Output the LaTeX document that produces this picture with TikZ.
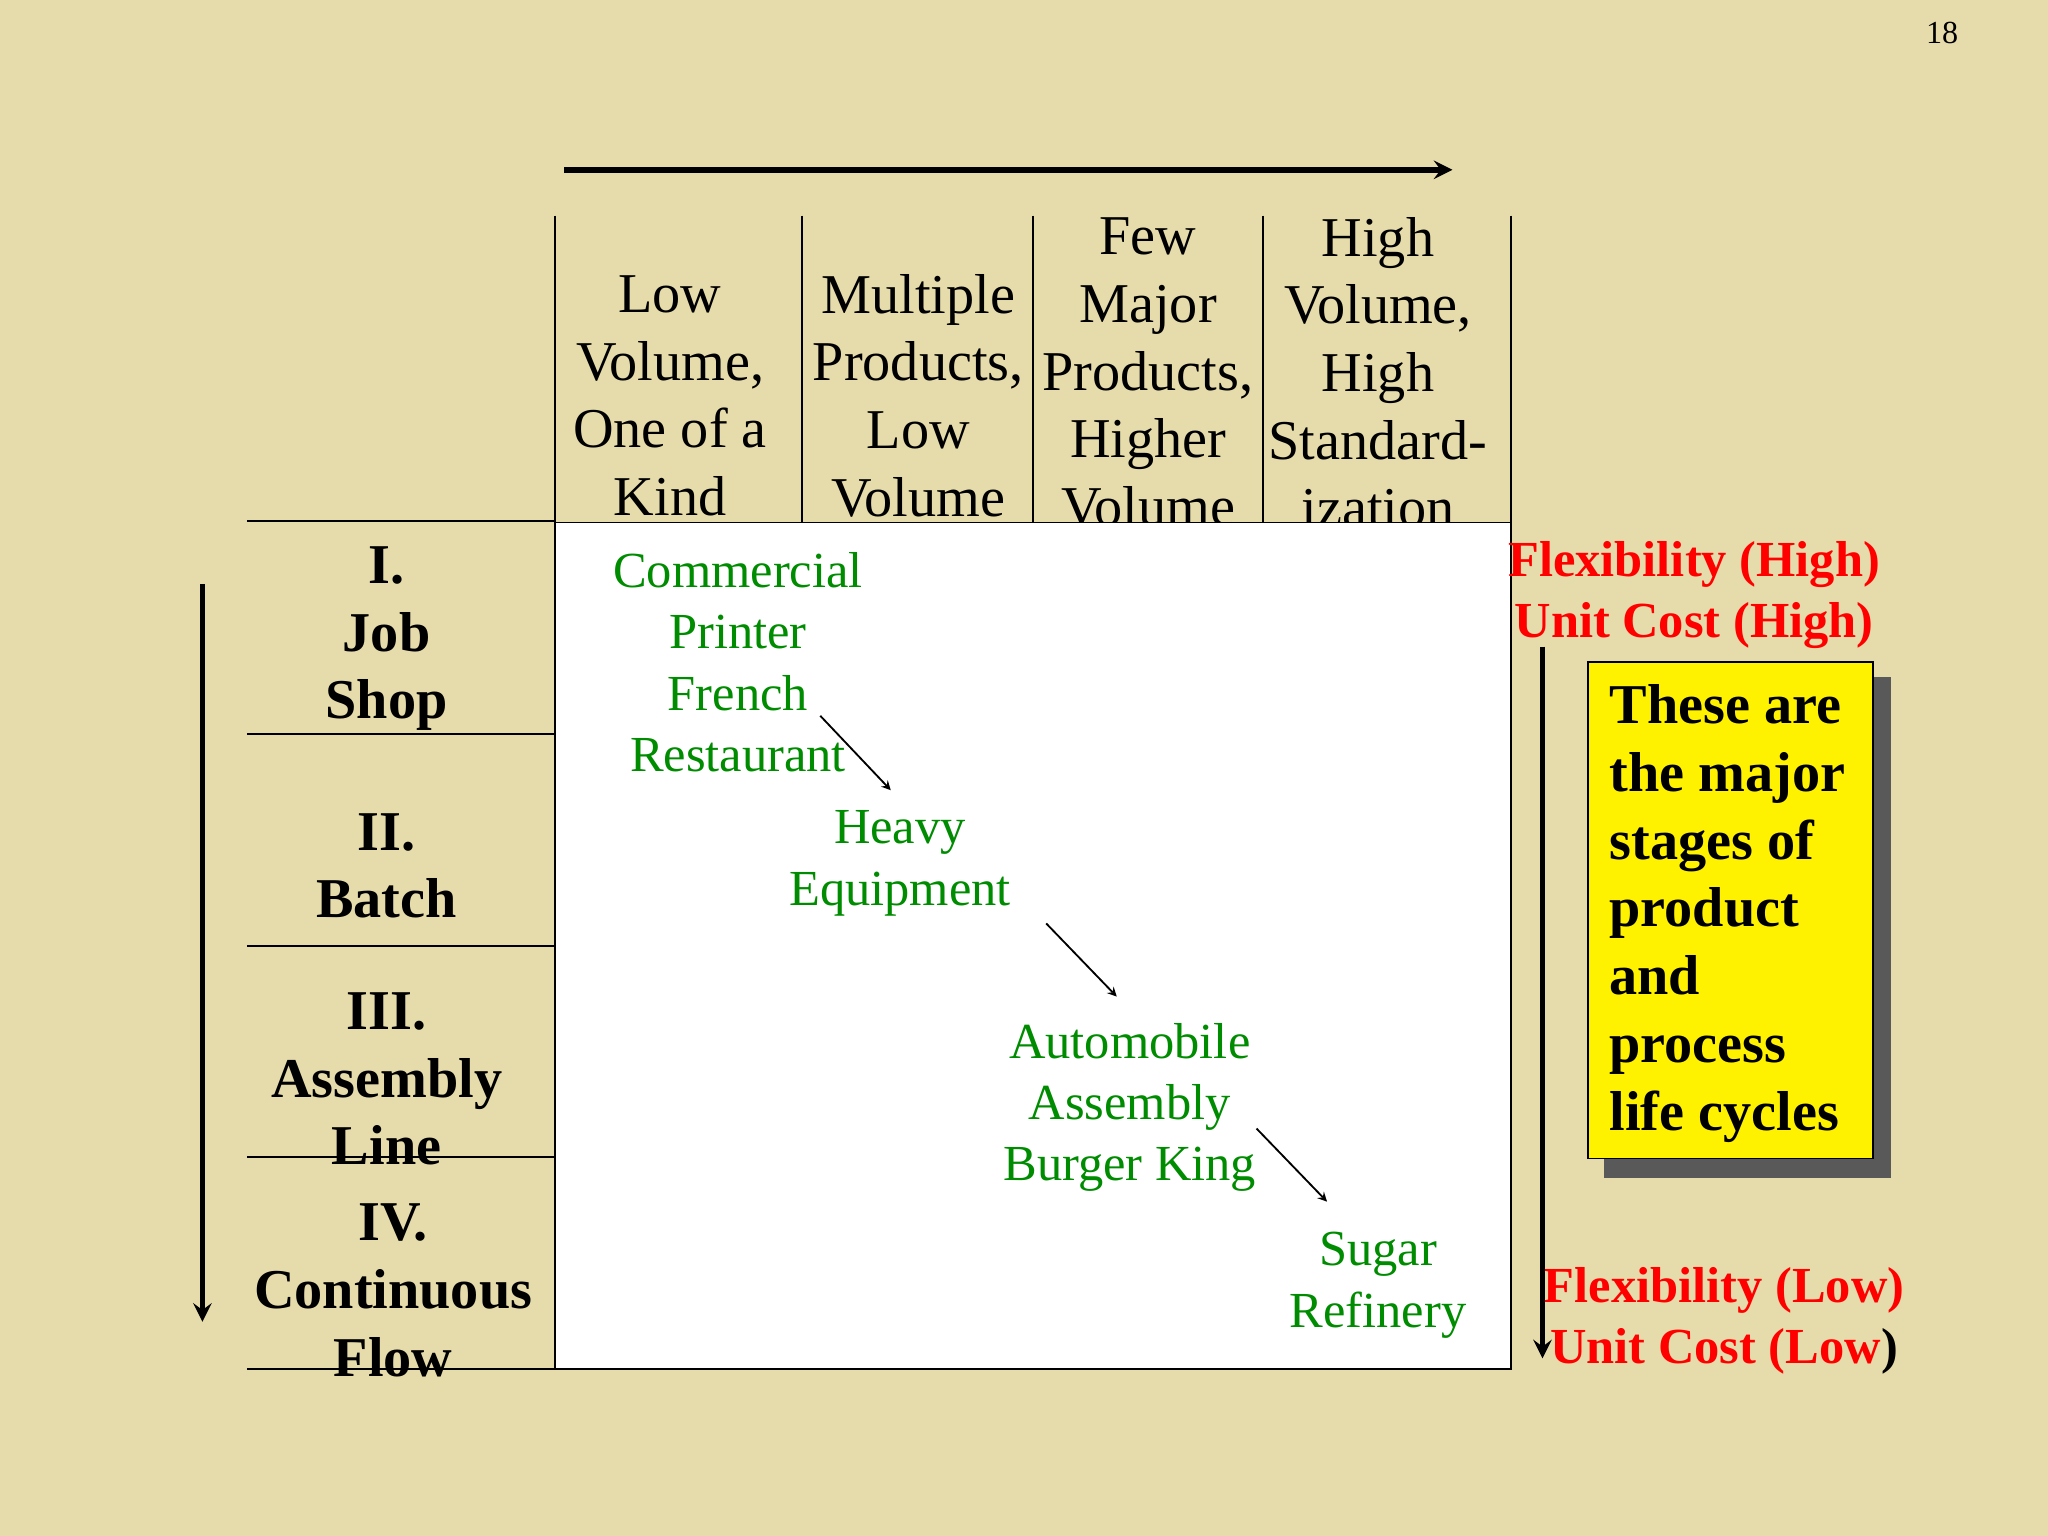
\documentclass[tikz,border=0pt]{standalone}
\usepackage{fontspec}
\setmainfont{Liberation Serif}
\begin{document}
\begin{tikzpicture}[x=0.02cm,y=-0.02cm,
 hdr/.style={align=center,font=\fontsize{24.5}{26}\selectfont\rmfamily,inner sep=0pt},
 hdrtxt/.style={align=center,font=\fontsize{24.5}{29.5}\selectfont,inner sep=0pt},
 rowtxt/.style={align=center,font=\fontsize{24.5}{29.5}\selectfont\bfseries,inner sep=0pt},
 grn/.style={align=center,font=\fontsize{22}{26.6}\selectfont,text=green!55!black,inner sep=0pt},
 red/.style={font=\fontsize{22}{26.6}\selectfont\bfseries,text=red,inner sep=0pt},
 arr/.style={-stealth,thick},
 bigarr/.style={-stealth,line width=2.5pt}]
\fill[color={rgb,255:red,230;green,220;blue,171}] (0,0) rectangle (1568,1176);
\node[font=\fontsize{14}{16}\selectfont] (pg) at (1487,25) {18};
\coordinate (ta) at (432,130); \coordinate (tb) at (1112,130);
\draw[bigarr] (ta) -- (tb);
\foreach \x in {425,614,791,967,1157} \draw[thick] (\x,165) -- (\x,400);
\node[hdrtxt] (h1) at (513,303) {Low\\Volume,\\One of a\\Kind};
\node[hdrtxt] (h2) at (703,303) {Multiple\\Products,\\Low\\Volume};
\node[hdrtxt] (h3) at (879,285) {Few\\Major\\Products,\\Higher\\Volume};
\node[hdrtxt] (h4) at (1055,285) {High\\Volume,\\High\\Standard-\\ization};
\draw[thick,fill=white] (425,400) rectangle (1157,1048);
\foreach \y in {399,562,724,886,1048} \draw[thick] (189,\y) -- (425,\y);
\node[rowtxt] (r1) at (296,489) {I.\\Job\\Shop};
\node[rowtxt] (r2) at (296,663) {II.\\Batch};
\node[rowtxt] (r3) at (296,826) {III.\\Assembly\\Line};
\node[rowtxt] (r4) at (301,988) {IV.\\Continuous\\Flow};
\coordinate (la) at (155,447); \coordinate (lb) at (155,1012);
\draw[bigarr] (la) -- (lb);
\node[grn] (g1) at (565,507) {Commercial\\Printer\\French\\Restaurant};
\node[grn] (g2) at (689,661) {Heavy\\Equipment};
\node[grn] (g3) at (865,848) {Automobile\\Assembly\\Burger King};
\node[grn] (g4) at (1055,984) {Sugar\\Refinery};
\coordinate (a1) at (628,548); \coordinate (b1) at (682,605);
\coordinate (a2) at (801,707); \coordinate (b2) at (855,763);
\coordinate (a3) at (962,864); \coordinate (b3) at (1016,920);
\draw[arr] (a1) -- (b1); \draw[arr] (a2) -- (b2); \draw[arr] (a3) -- (b3);
\node[red] (f1) at (1297,432) {Flexibility (High)};
\node[red] (u1) at (1297,479) {Unit Cost (High)};
\node[red] (f2) at (1320,988) {Flexibility (Low)};
\node[red] (u2) at (1320,1035) {Unit Cost (Low\textcolor{black}{)}};
\coordinate (ra) at (1181,495); \coordinate (rb) at (1181,1040);
\draw[bigarr] (ra) -- (rb);
\fill[gray!70!black] (1228,518) rectangle (1448,902);
\draw[thick,fill=yellow] (1216,507) rectangle (1434,887);
\node[anchor=north west,align=left,font=\fontsize{24.5}{29.5}\selectfont\bfseries,inner sep=0pt] (yb) at (1232,524)
 {These are\\the major\\stages of\\product\\and\\process\\life cycles};
\end{tikzpicture}
\end{document}
